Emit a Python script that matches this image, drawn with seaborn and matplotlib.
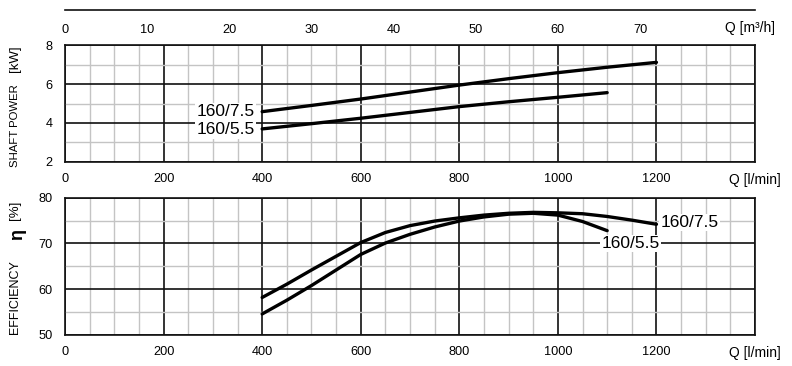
import matplotlib
matplotlib.use("Agg")
import matplotlib.pyplot as plt
from matplotlib.ticker import MultipleLocator, FixedLocator
import seaborn as sns
import pandas as pd

# ---------------- data ----------------
q_p75 = [400, 500, 600, 700, 800, 900, 1000, 1100, 1200]
p_75 = [4.58, 4.90, 5.23, 5.59, 5.95, 6.28, 6.59, 6.87, 7.12]
q_p55 = [400, 500, 600, 700, 800, 900, 1000, 1100]
p_55 = [3.69, 3.96, 4.24, 4.54, 4.84, 5.09, 5.32, 5.56]

q_e75 = [400, 450, 500, 550, 600, 650, 700, 750, 800, 850, 900, 950, 1000, 1050, 1100, 1150, 1200]
eta_75 = [58.2, 61.1, 64.2, 67.2, 70.2, 72.4, 73.9, 74.9, 75.6, 76.2, 76.6, 76.8, 76.7, 76.5, 75.9, 75.1, 74.2]
q_e55 = [400, 450, 500, 550, 600, 650, 700, 750, 800, 850, 900, 950, 1000, 1050, 1100]
eta_55 = [54.6, 57.6, 60.8, 64.2, 67.6, 70.1, 72.0, 73.6, 74.9, 75.8, 76.4, 76.6, 76.2, 74.8, 72.8]

model_names = ["160/7.5", "160/5.5"]
x_ticks_lmin = [0, 200, 400, 600, 800, 1000, 1200, 1400]
x_labels_lmin = ["0", "200", "400", "600", "800", "1000", "1200", "Q [l/min]"]
top_ticks_m3h = [0, 10, 20, 30, 40, 50, 60, 70, 80]
top_labels_m3h = ["0", "10", "20", "30", "40", "50", "60", "70", ""]
power_ticks = [2, 4, 6, 8]
eta_ticks = [50, 60, 70, 80]

df_p = pd.concat([
    pd.DataFrame({"Q": q_p75, "v": p_75, "model": model_names[0]}),
    pd.DataFrame({"Q": q_p55, "v": p_55, "model": model_names[1]}),
])
df_e = pd.concat([
    pd.DataFrame({"Q": q_e75, "v": eta_75, "model": model_names[0]}),
    pd.DataFrame({"Q": q_e55, "v": eta_55, "model": model_names[1]}),
])

# ---------------- style ----------------
sns.set_style("white")
plt.rcParams["font.family"] = ["Liberation Sans", "DejaVu Sans"]
plt.rcParams["font.size"] = 9
plt.rcParams["text.color"] = "black"
plt.rcParams["xtick.color"] = "black"
plt.rcParams["ytick.color"] = "black"
plt.rcParams["xtick.labelcolor"] = "black"
plt.rcParams["ytick.labelcolor"] = "black"

fig = plt.figure(figsize=(7.92, 3.66), dpi=100)
L, W = 0.0821, 0.8712
ax_top = fig.add_axes([L, 0.9727, W, 0.001])
ax_p = fig.add_axes([L, 0.5582, W, 0.318])
ax_e = fig.add_axes([L, 0.0847, W, 0.3751])

MAJ = "#111111"
MIN = "#c4c4c4"
TICK_FS = 9.2
Q_FS = 10


def style_axes(ax, ylim, yticks, yminor):
    ax.set_xlim(0, 1400)
    ax.set_ylim(*ylim)
    ax.xaxis.set_major_locator(FixedLocator(x_ticks_lmin))
    ax.set_xticklabels(x_labels_lmin)
    ax.get_xticklabels()[-1].set_fontsize(Q_FS)
    ax.xaxis.set_minor_locator(MultipleLocator(50))
    ax.yaxis.set_major_locator(FixedLocator(yticks))
    ax.yaxis.set_minor_locator(MultipleLocator(yminor))
    ax.grid(which="minor", color=MIN, lw=1.0, zorder=0)
    ax.grid(which="major", color=MAJ, lw=1.2, zorder=1)
    ax.set_axisbelow(True)
    for s in ax.spines.values():
        s.set_color(MAJ)
        s.set_linewidth(1.2)
    ax.tick_params(axis="x", which="major", direction="out", length=4, width=1.2,
                   color=MAJ, pad=4, labelsize=TICK_FS)
    ax.tick_params(axis="y", which="major", direction="out", length=7, width=1.2,
                   color=MAJ, pad=2, labelsize=TICK_FS)
    ax.get_xticklabels()[-1].set_fontsize(Q_FS)
    ax.tick_params(which="minor", length=0)
    ax.set_xlabel("")
    ax.set_ylabel("")


sns.lineplot(data=df_p, x="Q", y="v", hue="model", palette=["black", "black"],
             estimator=None, lw=2.4, legend=False, ax=ax_p, zorder=3)
sns.lineplot(data=df_e, x="Q", y="v", hue="model", palette=["black", "black"],
             estimator=None, lw=2.4, legend=False, ax=ax_e, zorder=3)

style_axes(ax_p, (2, 8), power_ticks, 1)
style_axes(ax_e, (50, 80), eta_ticks, 5)

# ---------------- top m3/h axis ----------------
ax_top.set_xlim(0, 84)
ax_top.set_ylim(0, 1)
ax_top.patch.set_alpha(0)
for k in ["top", "left", "right"]:
    ax_top.spines[k].set_visible(False)
ax_top.spines["bottom"].set_color(MAJ)
ax_top.spines["bottom"].set_linewidth(1.2)
ax_top.set_yticks([])
ax_top.xaxis.set_major_locator(FixedLocator(top_ticks_m3h))
ax_top.set_xticklabels(top_labels_m3h)
ax_top.tick_params(axis="x", direction="out", length=7, width=1.2, color=MAJ,
                   pad=3, labelsize=TICK_FS)
fig.text(L + W * 80.3 / 84, 0.9727 - 0.031, "Q [m³/h]", ha="left", va="top", fontsize=Q_FS)

# ---------------- curve labels ----------------
box = dict(facecolor="white", edgecolor="none", pad=1.0)
ax_p.text(385, p_75[0], model_names[0], ha="right", va="center", fontsize=12.5, bbox=box, zorder=4)
ax_p.text(385, p_55[0] - 0.05, model_names[1], ha="right", va="center", fontsize=12.5, bbox=box, zorder=4)
ax_e.text(1208, eta_75[-1] + 0.4, model_names[0], ha="left", va="center", fontsize=12.5, bbox=box, zorder=4)
ax_e.text(1148, 70.0, model_names[1], ha="center", va="center", fontsize=12.5, bbox=box, zorder=4)

# ---------------- y-axis titles ----------------
YT = 9.0
fig.text(0.019, 0.658, "SHAFT POWER", rotation=90, ha="center", va="center", fontsize=8.2)
fig.text(0.019, 0.839, "[kW]", rotation=90, ha="center", va="center", fontsize=YT + 0.5)
fig.text(0.019, 0.187, "EFFICIENCY", rotation=90, ha="center", va="center", fontsize=YT)
fig.text(0.022, 0.358, "η", rotation=90, ha="center", va="center", fontsize=13,
         fontweight="bold")
fig.text(0.019, 0.426, "[%]", rotation=90, ha="center", va="center", fontsize=YT + 0.5)

fig.savefig("out.png", dpi=100)
